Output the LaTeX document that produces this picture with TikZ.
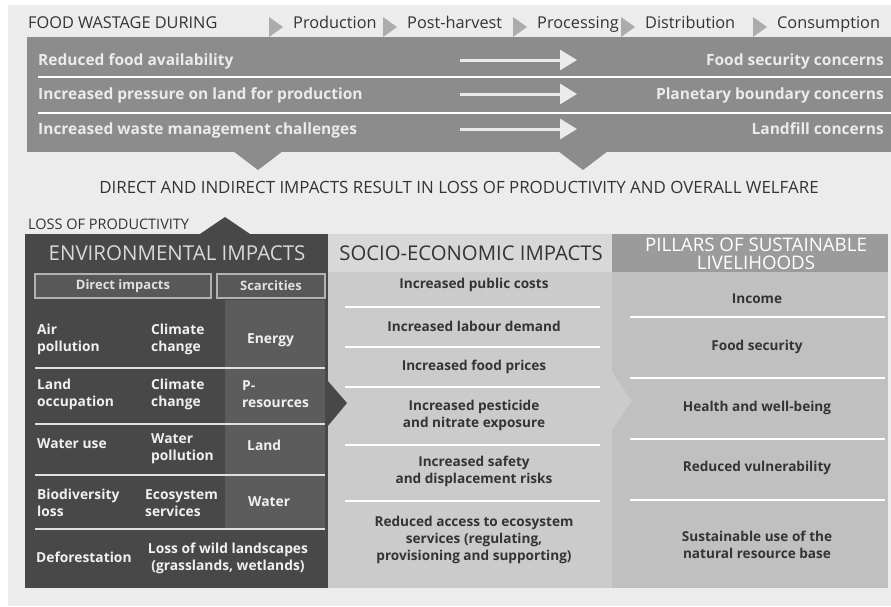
\documentclass[tikz,border=0pt]{standalone}
\usepackage{fontspec}
\setmainfont{Open Sans}
\usetikzlibrary{arrows.meta}

\definecolor{paper}{RGB}{236,236,236}
\definecolor{band}{RGB}{140,140,140}
\definecolor{stagetri}{RGB}{172,172,172}
\definecolor{envdark}{RGB}{72,72,72}
\definecolor{envcol}{RGB}{92,92,92}
\definecolor{envbox}{RGB}{88,88,88}
\definecolor{sochead}{RGB}{216,216,216}
\definecolor{socbody}{RGB}{203,203,203}
\definecolor{pilhead}{RGB}{155,155,155}
\definecolor{pilbody}{RGB}{192,192,192}
\definecolor{ink}{RGB}{52,52,52}

\tikzset{
  stage/.style={text=ink, font=\fontsize{16.3}{19}\selectfont, inner sep=0pt},
  bandtext/.style={text=white!92!black, font=\fontsize{15.5}{18}\selectfont\bfseries, inner sep=0pt},
  envitem/.style={text=white!94!black, font=\fontsize{13.8}{17}\selectfont\bfseries, align=left, anchor=west, inner sep=0pt},
  socitem/.style={text=ink, font=\fontsize{13.6}{17}\selectfont\bfseries, align=center, inner sep=0pt},
  subbox/.style={draw=white!70!black, line width=2pt, fill=envbox, text=white!88!black,
    font=\fontsize{13}{15}\selectfont\bfseries, minimum height=24pt, inner sep=0pt},
  pilltitle/.style={text=white, font=\fontsize{18.7}{19}\selectfont, anchor=base, inner sep=0pt},
  sepline/.style={white, line width=2.5pt},
  flow/.style={white!92!black, line width=3pt, -{Triangle[length=17pt,width=20pt]}}
}

\begin{document}
\begin{tikzpicture}[x=1pt,y=-1pt]
\useasboundingbox (0,0) rectangle (891,606);
% background
\fill[white] (0,0) rectangle (891,606);
\fill[paper] (8,5) rectangle (891,606);

% stages of the chain
\node[stage, anchor=base west] (during) at (28,28) {FOOD WASTAGE DURING};
\foreach \n/\x/\t in {prod/293/Production, post/407/Post-harvest, proc/537/Processing, dist/645/Distribution, cons/777/Consumption}
{
    \fill[stagetri] (\x-24,17) -- (\x-10,27) -- (\x-24,37) -- cycle;
    \node[stage, anchor=base west] (\n) at (\x,28) {\t};
}

% band of consequences
\fill[band] (27,37) rectangle (891,152);
\foreach \y in {77,113}
    \draw[sepline, line width=2pt] (38,\y) -- (891,\y);
\fill[band] (233,151) -- (258,170) -- (283,151) -- cycle;
\fill[band] (558,151) -- (583,170) -- (608,151) -- cycle;

\foreach \n/\y/\a/\b in {avail/60/Reduced food availability/Food security concerns,
    land/94/Increased pressure on land for production/Planetary boundary concerns,
    waste/129/Increased waste management challenges/Landfill concerns}
{
    \node[bandtext, anchor=base west] (\n-l) at (38,\y+5.5) {\a};
    \node[bandtext, anchor=base east] (\n-r) at (884,\y+5.5) {\b};
    \coordinate (\n-s) at (460,\y);
    \coordinate (\n-e) at (577,\y);
    \draw[flow] (\n-s) -- (\n-e);
}

\node[stage, font=\fontsize{16.9}{19}\selectfont] (result) at (459,187)
    {DIRECT AND INDIRECT IMPACTS RESULT IN LOSS OF PRODUCTIVITY AND OVERALL WELFARE};
\node[stage, anchor=west, font=\fontsize{14.5}{16}\selectfont] (lossprod) at (28,224) {LOSS OF PRODUCTIVITY};

% socio-economic panel
\fill[socbody] (328,234) rectangle (612,588);
\fill[sochead] (328,234) rectangle (612,272);
\fill[socbody] (611,372) -- (632,401) -- (611,430) -- cycle;
\node[stage, font=\fontsize{20.3}{23}\selectfont] (sochd) at (471,253) {SOCIO-ECONOMIC IMPACTS};
\foreach \y in {307,347,387,445,501}
    \draw[sepline] (345,\y) -- (600,\y);
\foreach \n/\y/\t in {soc1/285/Increased public costs, soc2/326/Increased labour demand,
    soc3/367/Increased food prices, soc4/415/Increased pesticide\\and nitrate exposure,
    soc5/471/Increased safety\\and displacement risks,
    soc6/540/{Reduced access to ecosystem\\services (regulating,\\provisioning and supporting)}}
    \node[socitem] (\n) at (474,\y) {\t};

% pillars panel
\fill[pilbody] (612,234) rectangle (888,588);
\fill[pilhead] (612,234) rectangle (888,272);
\fill[socbody] (612,372) -- (632,401) -- (612,430) -- cycle;
\node[pilltitle] (pilhd1) at (756,251.5) {PILLARS OF SUSTAINABLE};
\node[pilltitle] (pilhd2) at (756,269.5) {LIVELIHOODS};
\foreach \y in {317,378,439,500}
    \draw[sepline] (630,\y) -- (885,\y);
\foreach \n/\y/\t in {pil1/299/Income, pil2/347/Food security, pil3/408/Health and well-being,
    pil4/468/Reduced vulnerability, pil5/545/Sustainable use of the\\natural resource base}
    \node[socitem] (\n) at (757,\y) {\t};

% environmental panel
\fill[envdark] (25,234) rectangle (328,588);
\fill[envdark] (200,234) -- (225,217) -- (250,234) -- cycle;
\fill[envdark] (327,380) -- (347,403) -- (327,427) -- cycle;
\fill[envcol] (225,300) rectangle (325,529);
\node[text=white!85!black, font=\fontsize{20.5}{23}\selectfont, inner sep=0pt] (envhd) at (177,253) {ENVIRONMENTAL IMPACTS};
\node[subbox, minimum width=176pt] (direct) at (123,286) {Direct impacts};
\node[subbox, minimum width=108pt] (scarce) at (271,286) {Scarcities};
\foreach \y in {368,424,475,529}
    \draw[sepline, white!88!black] (35,\y) -- (325,\y);

\node[envitem] (air) at (37,339) {Air\\pollution};
\node[envitem] (clim1) at (151,339) {Climate\\change};
\node[envitem] (energy) at (247,340) {Energy};
\node[envitem] (landocc) at (37,394) {Land\\occupation};
\node[envitem] (clim2) at (151,394) {Climate\\change};
\node[envitem] (pres) at (242,394) {P-\\resources};
\node[envitem] (wateruse) at (37,444) {Water use};
\node[envitem] (waterpol) at (151,449) {Water\\pollution};
\node[envitem] (landsc) at (247,445) {Land};
\node[envitem] (biodiv) at (37,503) {Biodiversity\\loss};
\node[envitem] (ecosys) at (145,503) {Ecosystem\\services};
\node[envitem] (water) at (248,502) {Water};
\node[envitem] (defor) at (36,557) {Deforestation};
\node[envitem, anchor=center, align=center] (wild) at (228,558) {Loss of wild landscapes\\(grasslands, wetlands)};

\end{tikzpicture}
\end{document}
